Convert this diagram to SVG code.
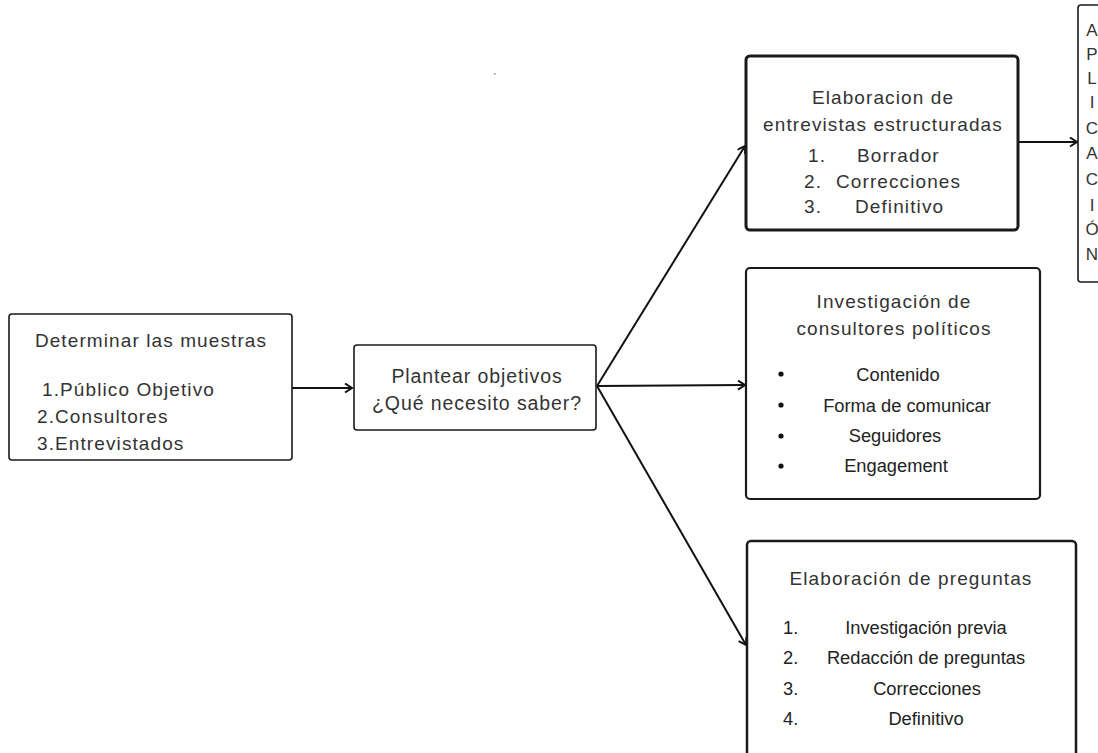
<svg xmlns="http://www.w3.org/2000/svg" width="1098" height="753" viewBox="0 0 1098 753">
<style>
.box{fill:#fff;stroke:#1a1a1a;stroke-width:1.6}
.t{font-family:"Liberation Sans",Arial,sans-serif;font-size:19px;fill:#333;letter-spacing:1.1px}
.tc{text-anchor:middle}
.i{font-family:"Liberation Sans",Arial,sans-serif;font-size:18.3px;fill:#222}
.con{stroke:#111;stroke-width:2;fill:none}
.v{font-family:"Liberation Sans",Arial,sans-serif;font-size:17px;fill:#333;text-anchor:middle}
</style>
<defs>
<marker id="ah" markerWidth="12" markerHeight="12" refX="9" refY="5" orient="auto" markerUnits="userSpaceOnUse">
<path d="M2,0.5 L9,5 L2,9.5" fill="none" stroke="#111" stroke-width="2"/>
</marker>
</defs>
<rect width="1098" height="753" fill="#fff"/>
<text x="493" y="83" font-family="Liberation Sans, Arial, sans-serif" font-size="12" fill="#777">´</text>
<g id="connectors">
<line class="con" x1="292" y1="388" x2="352" y2="388" marker-end="url(#ah)"/>
<line class="con" x1="597" y1="386" x2="745" y2="146" marker-end="url(#ah)"/>
<line class="con" x1="597" y1="386" x2="745" y2="385" marker-end="url(#ah)"/>
<line class="con" x1="597" y1="386" x2="746" y2="645" marker-end="url(#ah)"/>
<line class="con" x1="1018" y1="142" x2="1077" y2="142" marker-end="url(#ah)"/>
</g>
<g id="muestras">
<rect class="box" x="9" y="314" width="283" height="146" rx="3"/>
<text class="t tc" x="151" y="347">Determinar las muestras</text>
<text class="t" x="42" y="396">1.Público Objetivo</text>
<text class="t" x="37" y="423">2.Consultores</text>
<text class="t" x="37" y="450">3.Entrevistados</text>
</g>
<g id="objetivos">
<rect class="box" x="354" y="345" width="242" height="85" rx="3"/>
<text class="t tc" x="477" y="383" style="font-size:19.5px;letter-spacing:0.9px">Plantear objetivos</text>
<text class="t tc" x="477" y="410" style="font-size:19.5px;letter-spacing:0.9px">¿Qué necesito saber?</text>
</g>
<g id="entrevistas">
<rect class="box" x="746" y="56" width="272" height="174" rx="4" style="stroke-width:3"/>
<text class="t tc" x="883" y="104">Elaboracion de</text>
<text class="t tc" x="883" y="131">entrevistas estructuradas</text>
<text class="t" x="808" y="162">1.</text>
<text class="t" x="857" y="162">Borrador</text>
<text class="t" x="804" y="188">2.</text>
<text class="t" x="836" y="188">Correcciones</text>
<text class="t" x="804" y="213">3.</text>
<text class="t" x="855" y="213">Definitivo</text>
</g>
<g id="aplicacion">
<rect class="box" x="1078" y="5" width="30" height="277" rx="3"/>
<text class="v" x="1092" y="36">A</text>
<text class="v" x="1092" y="60">P</text>
<text class="v" x="1092" y="84">L</text>
<text class="v" x="1092" y="108">I</text>
<text class="v" x="1092" y="134">C</text>
<text class="v" x="1092" y="159">A</text>
<text class="v" x="1092" y="185">C</text>
<text class="v" x="1092" y="211">I</text>
<text class="v" x="1092" y="235">Ó</text>
<text class="v" x="1092" y="260">N</text>
</g>
<g id="investigacion">
<rect class="box" x="746" y="268" width="294" height="231" rx="4" style="stroke-width:2.2"/>
<text class="t tc" x="894" y="308">Investigación de</text>
<text class="t tc" x="894" y="335">consultores políticos</text>
<circle cx="781" cy="374" r="2.6" fill="#111"/>
<circle cx="781" cy="405" r="2.6" fill="#111"/>
<circle cx="781" cy="436" r="2.6" fill="#111"/>
<circle cx="781" cy="466" r="2.6" fill="#111"/>
<text class="i tc" x="898" y="381">Contenido</text>
<text class="i tc" x="907" y="412">Forma de comunicar</text>
<text class="i tc" x="895" y="442">Seguidores</text>
<text class="i tc" x="896" y="472">Engagement</text>
</g>
<g id="preguntas">
<rect class="box" x="747" y="541" width="329" height="222" rx="4" style="stroke-width:2.5"/>
<text class="t tc" x="911" y="585">Elaboración de preguntas</text>
<text class="i" x="783" y="634">1.</text>
<text class="i" x="783" y="664">2.</text>
<text class="i" x="783" y="695">3.</text>
<text class="i" x="783" y="725">4.</text>
<text class="i tc" x="926" y="634">Investigación previa</text>
<text class="i tc" x="926" y="664">Redacción de preguntas</text>
<text class="i tc" x="927" y="695">Correcciones</text>
<text class="i tc" x="926" y="725">Definitivo</text>
</g>
</svg>
